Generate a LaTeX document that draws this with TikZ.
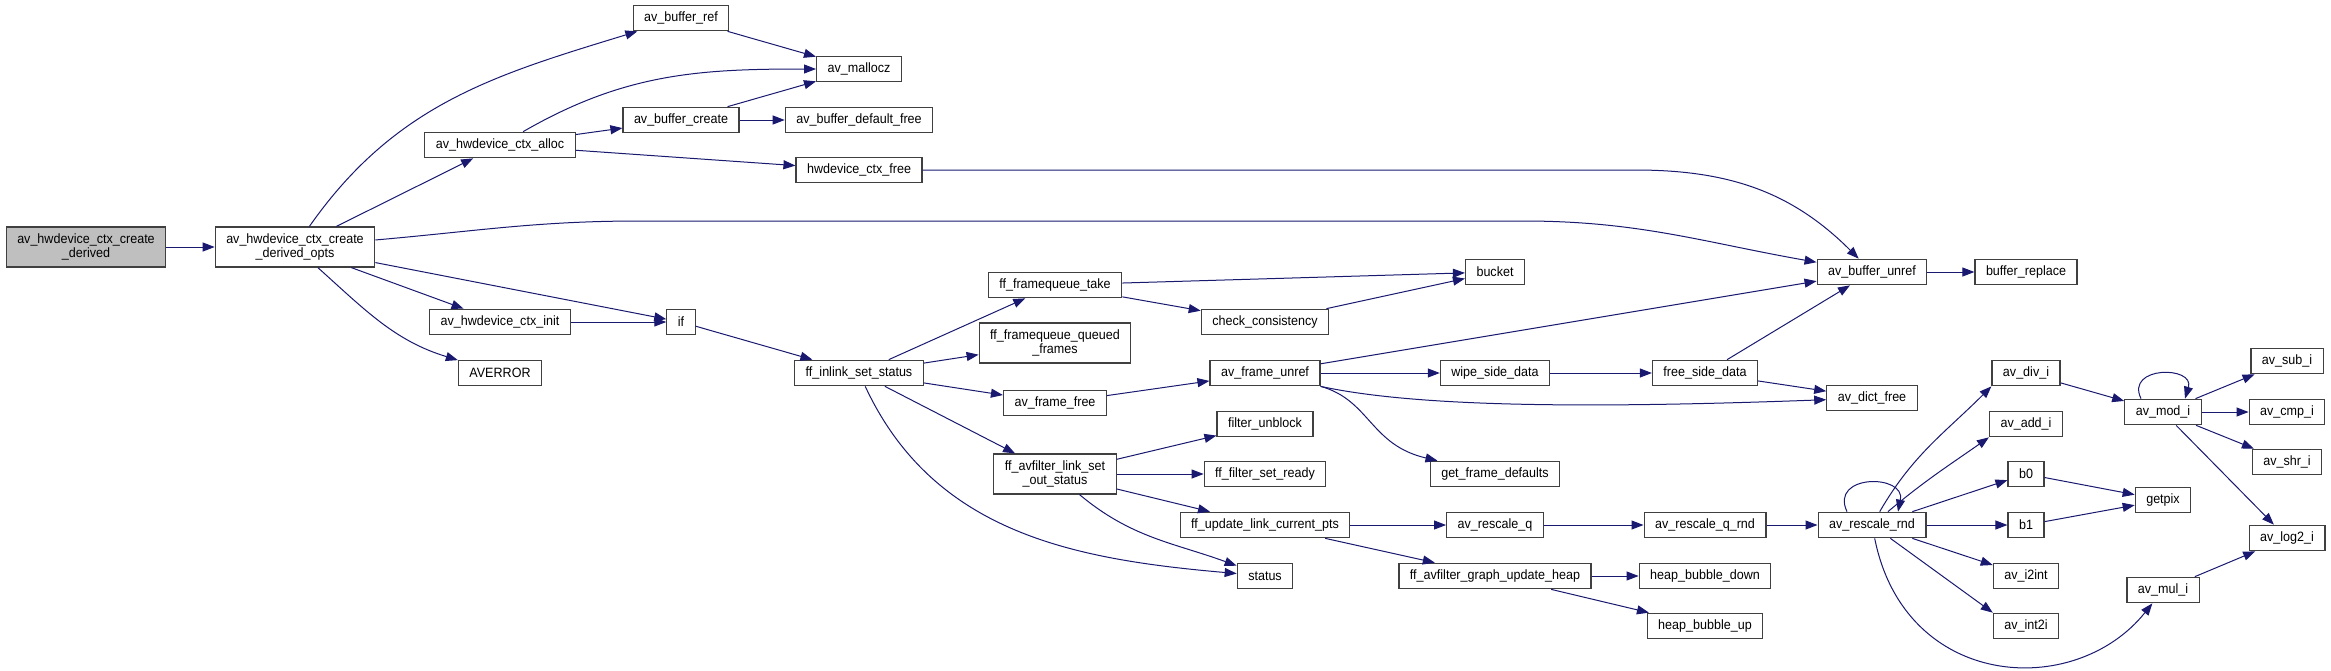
\documentclass[tikz,border=0pt]{standalone}
\usepackage{fontspec}
\setmainfont{Liberation Sans}[FakeStretch=0.93]
\usetikzlibrary{arrows.meta}
\definecolor{edgeblue}{HTML}{191970}
\definecolor{boxline}{HTML}{404040}
\definecolor{rootgray}{HTML}{BFBFBF}

\begin{document}
\begin{tikzpicture}[x=1pt, y=1pt, >={Triangle[length=12pt,width=9pt]},
    fn/.style={draw=boxline, line width=1.2pt, fill=white, inner xsep=11pt, inner ysep=3pt,
               minimum height=25.5pt, font=\fontsize{13.5}{13.7}\selectfont, align=center},
    twoline/.style={fn, minimum height=40pt},
    call/.style={->, draw=edgeblue, line width=1pt}]
                % 0. Bild
                \fill[white] (0,0) rectangle (2331,-670);
                \useasboundingbox (0,0) rectangle (2331,-670);

                % 1. Funktionen
                \node[twoline, fill=rootgray] (derived) at (86,-247) {av\_hwdevice\_ctx\_create\\\_derived};
                \node[twoline] (opts) at (295,-247) {av\_hwdevice\_ctx\_create\\\_derived\_opts};
                \node[fn] (alloc) at (500,-145) {av\_hwdevice\_ctx\_alloc};
                \node[fn] (init) at (500,-322) {av\_hwdevice\_ctx\_init};
                \node[fn] (averror) at (500,-373) {AVERROR};
                \node[fn] (bref) at (681,-18) {av\_buffer\_ref};
                \node[fn] (bcreate) at (681,-120) {av\_buffer\_create};
                \node[fn] (ifn) at (681,-322) {if};
                \node[fn] (mallocz) at (859,-69) {av\_mallocz};
                \node[fn] (bdfree) at (859,-120) {av\_buffer\_default\_free};
                \node[fn] (hfree) at (859,-170) {hwdevice\_ctx\_free};
                \node[fn] (inlink) at (859,-373) {ff\_inlink\_set\_status};
                \node[fn] (fqtake) at (1055,-285) {ff\_framequeue\_take};
                \node[twoline] (fqqueued) at (1055,-343) {ff\_framequeue\_queued\\\_frames};
                \node[fn] (ffree) at (1055,-403) {av\_frame\_free};
                \node[twoline] (linkout) at (1055,-474) {ff\_avfilter\_link\_set\\\_out\_status};
                \node[fn] (check) at (1265,-322) {check\_consistency};
                \node[fn] (funref) at (1265,-373) {av\_frame\_unref};
                \node[fn] (unblock) at (1265,-424) {filter\_unblock};
                \node[fn] (setready) at (1265,-474) {ff\_filter\_set\_ready};
                \node[fn] (updpts) at (1265,-525) {ff\_update\_link\_current\_pts};
                \node[fn] (status) at (1265,-576) {status};
                \node[fn] (bucket) at (1495,-272) {bucket};
                \node[fn] (wipe) at (1495,-373) {wipe\_side\_data};
                \node[fn] (getdef) at (1495,-474) {get\_frame\_defaults};
                \node[fn] (rescq) at (1495,-525) {av\_rescale\_q};
                \node[fn] (heap) at (1495,-576) {ff\_avfilter\_graph\_update\_heap};
                \node[fn] (freeside) at (1705,-373) {free\_side\_data};
                \node[fn] (qrnd) at (1705,-525) {av\_rescale\_q\_rnd};
                \node[fn] (bdown) at (1705,-576) {heap\_bubble\_down};
                \node[fn] (bup) at (1705,-626) {heap\_bubble\_up};
                \node[fn] (unref) at (1872,-272) {av\_buffer\_unref};
                \node[fn] (dictfree) at (1872,-398) {av\_dict\_free};
                \node[fn] (rnd) at (1872,-525) {av\_rescale\_rnd};
                \node[fn] (breplace) at (2026,-272) {buffer\_replace};
                \node[fn] (divi) at (2026,-373) {av\_div\_i};
                \node[fn] (addi) at (2026,-424) {av\_add\_i};
                \node[fn] (bzero) at (2026,-474) {b0};
                \node[fn] (bone) at (2026,-525) {b1};
                \node[fn] (itoint) at (2026,-576) {av\_i2int};
                \node[fn] (inttoi) at (2026,-626) {av\_int2i};
                \node[fn] (modi) at (2163,-412) {av\_mod\_i};
                \node[fn] (getpix) at (2163,-500) {getpix};
                \node[fn] (muli) at (2163,-590) {av\_mul\_i};
                \node[fn] (subi) at (2287,-361) {av\_sub\_i};
                \node[fn] (cmpi) at (2287,-412) {av\_cmp\_i};
                \node[fn] (shri) at (2287,-462) {av\_shr\_i};
                \node[fn] (logi) at (2287,-538) {av\_log2\_i};

                % 2. Aufrufe vom Einstieg
                \draw[call] (derived) -- (opts);
                \draw[call] (opts) to[out=55,in=197] (bref);
                \draw[call] (opts) -- (alloc);
                \draw[call] (opts) to[out=5,in=180] (640,-221) -- (1523,-221) to[out=0,in=170] (unref);
                \draw[call] (opts) -- (ifn);
                \draw[call] (opts) -- (init);
                \draw[call] (opts) to[out=-42,in=163] (averror);
                \draw[call] (alloc) to[out=30,in=180] (mallocz);
                \draw[call] (alloc) -- (bcreate);
                \draw[call] (alloc) -- (hfree);
                \draw[call] (bref) -- (mallocz);
                \draw[call] (bcreate) -- (mallocz);
                \draw[call] (bcreate) -- (bdfree);
                \draw[call] (hfree) -- (1635,-170) to[out=0,in=135] (unref);
                \draw[call] (init) -- (ifn);
                \draw[call] (ifn) -- (inlink);

                % 3. ff_inlink_set_status
                \draw[call] (inlink) -- (fqtake);
                \draw[call] (inlink) -- (fqqueued);
                \draw[call] (inlink) -- (ffree);
                \draw[call] (inlink) -- (linkout);
                \draw[call] (inlink) to[out=-65,in=175] (status);
                \draw[call] (fqtake) -- (bucket);
                \draw[call] (fqtake) -- (check);
                \draw[call] (check) -- (bucket);
                \draw[call] (ffree) -- (funref);
                \draw[call] (funref) -- (unref);
                \draw[call] (funref) -- (wipe);
                \draw[call] (funref.south east) .. controls (1420,-408) and (1600,-408) .. (dictfree);
                \draw[call] (funref.south east) .. controls (1370,-400) and (1370,-445) .. (getdef);
                \draw[call] (wipe) -- (freeside);
                \draw[call] (freeside) -- (unref);
                \draw[call] (freeside) -- (dictfree);
                \draw[call] (unref) -- (breplace);

                % 4. ff_avfilter_link_set_out_status
                \draw[call] (linkout) -- (unblock);
                \draw[call] (linkout) -- (setready);
                \draw[call] (linkout) -- (updpts);
                \draw[call] (linkout) to[out=-40,in=160] (status);
                \draw[call] (updpts) -- (rescq);
                \draw[call] (updpts) -- (heap);
                \draw[call] (rescq) -- (qrnd);
                \draw[call] (qrnd) -- (rnd);
                \draw[call] (heap) -- (bdown);
                \draw[call] (heap) -- (bup);

                % 5. av_rescale_rnd und Integer-Arithmetik
                \draw[call] ([xshift=-25pt]rnd.north) .. controls +(-18,38) and +(8,38) .. ([xshift=26pt]rnd.north);
                \draw[call] (rnd) to[out=60,in=225] (divi.south west);
                \draw[call] (rnd) to[out=40,in=215] (addi.south west);
                \draw[call] (rnd) -- (bzero);
                \draw[call] (rnd) -- (bone);
                \draw[call] (rnd) -- (itoint);
                \draw[call] (rnd) -- (inttoi.north west);
                \draw[call] (rnd) .. controls (1905,-690) and (2075,-700) .. (muli);
                \draw[call] (divi) -- (modi);
                \draw[call] ([xshift=-22pt]modi.north) .. controls +(-16,33) and +(10,33) .. ([xshift=22pt]modi.north);
                \draw[call] (modi) -- (subi);
                \draw[call] (modi) -- (cmpi);
                \draw[call] (modi) -- (shri);
                \draw[call] (modi) -- (logi);
                \draw[call] (bzero) -- (getpix);
                \draw[call] (bone) -- (getpix);
                \draw[call] (muli) -- (logi);
\end{tikzpicture}
\end{document}
